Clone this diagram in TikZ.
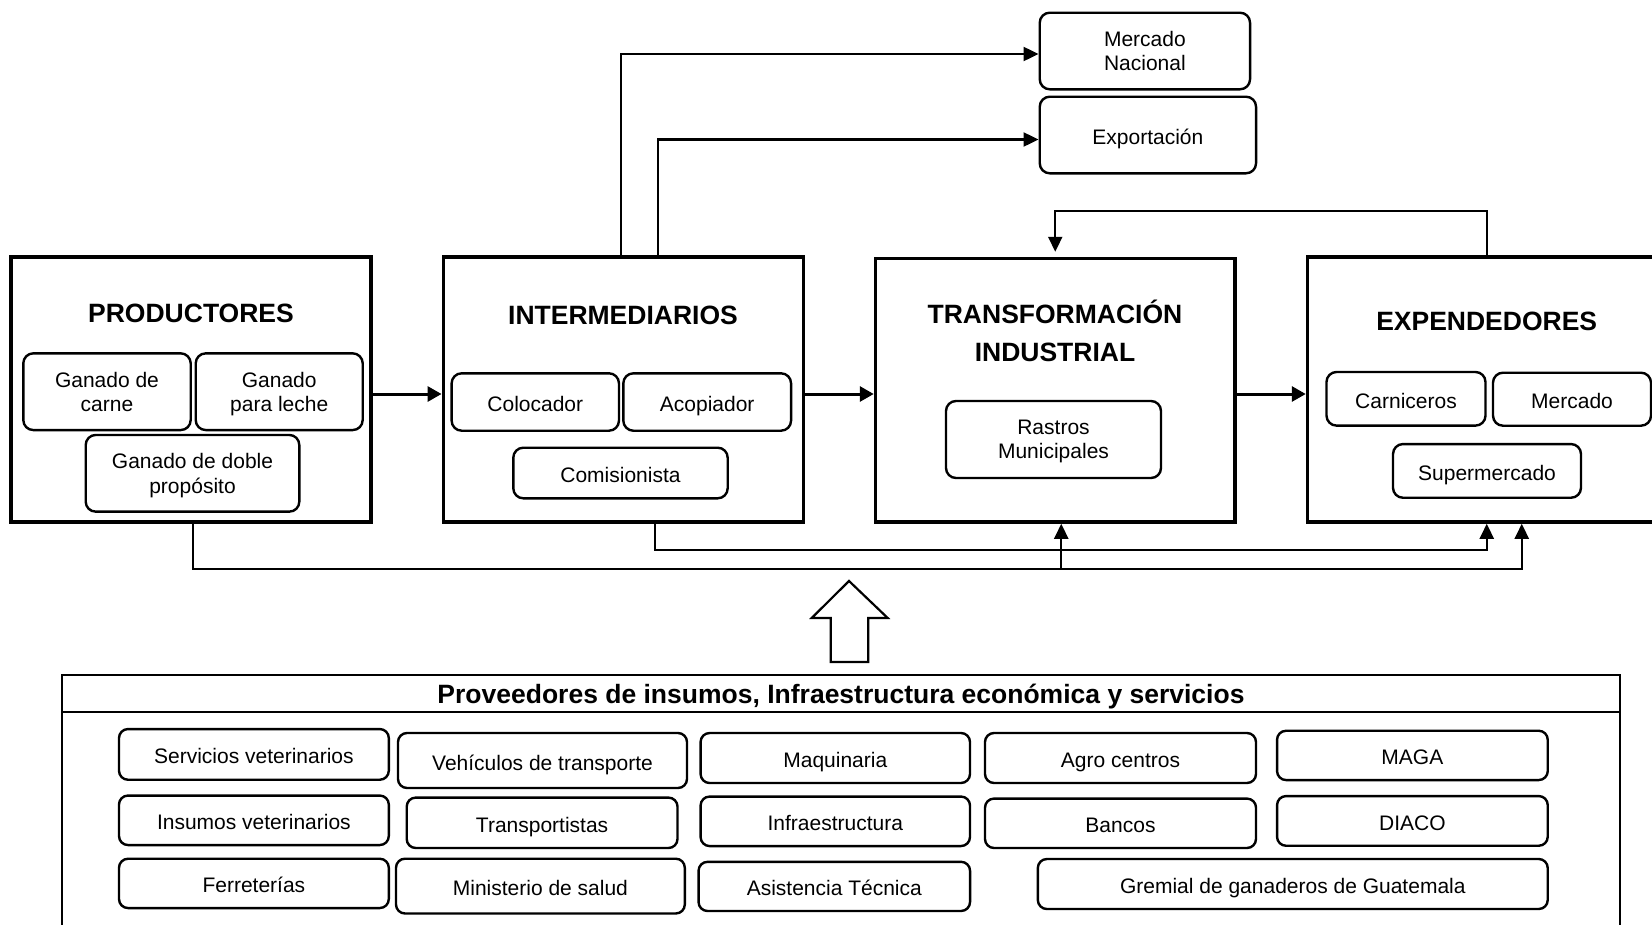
\documentclass[tikz,border=0pt]{standalone}
\usepackage{fontspec}
\setmainfont{Liberation Sans}
\usetikzlibrary{arrows.meta}
\begin{document}
\begin{tikzpicture}[x=1pt,y=-1pt,
  mainbox/.style={draw, line width=3.5pt, inner sep=0pt},
  subbox/.style={draw, line width=2.4pt, rounded corners=10pt, align=center, inner sep=0pt, font=\fontsize{21}{24.5}\selectfont},
  botbox/.style={draw, line width=2.4pt, rounded corners=9pt, align=center, inner sep=0pt, font=\fontsize{21}{24.5}\selectfont, text height=19pt, text depth=0pt},
  onel/.style={text height=19pt, text depth=0pt},
  twol/.style={text depth=0pt},
  titletext/.style={font=\fontsize{26.5}{38}\selectfont\bfseries, align=center, inner sep=0pt},
  conn/.style={line width=2.2pt},
  flow/.style={line width=3pt, -{Triangle[length=14pt,width=15pt]}},
  tipend/.style={-{Triangle[length=15pt,width=14pt]}}]
\clip (0,0) rectangle (1652,924);
\fill[white] (0,0) rectangle (1652,924);

% main boxes
\node[mainbox, minimum width=360pt, minimum height=265pt] (prod) at (191,389.5) {};
\node[mainbox, minimum width=360pt, minimum height=265pt] (inter) at (623.3,389.5) {};
\node[mainbox, minimum width=359.5pt, minimum height=263.5pt] (trans) at (1055.25,390.25) {};
\node[mainbox, minimum width=358.5pt, minimum height=265pt] (expen) at (1486.75,389.5) {};

\node[titletext] (prodt) at (191,313) {PRODUCTORES};
\node[titletext] (intert) at (623,315) {INTERMEDIARIOS};
\node[titletext] (transt) at (1055,331) {TRANSFORMACIÓN\\INDUSTRIAL};
\node[titletext] (expent) at (1486.7,321) {EXPENDEDORES};

% sub boxes
\node[subbox, twol, minimum width=167.4pt, minimum height=76.7pt] (gc) at (107,391.7) {Ganado de\\carne};
\node[subbox, twol, minimum width=167pt, minimum height=76.7pt] (gl) at (279.2,391.7) {Ganado\\para leche};
\node[subbox, twol, minimum width=213.6pt, minimum height=76.7pt] (gd) at (192.5,473.3) {Ganado de doble\\propósito};
\node[subbox, onel, minimum width=167.3pt, minimum height=57.4pt] (col) at (535.3,402) {Colocador};
\node[subbox, onel, minimum width=167.7pt, minimum height=57.4pt] (aco) at (707.2,402) {Acopiador};
\node[subbox, onel, minimum width=214.4pt, minimum height=50.6pt] (com) at (620.5,473) {Comisionista};
\node[subbox, twol, minimum width=215pt, minimum height=77pt] (ras) at (1053.5,439.5) {Rastros\\Municipales};
\node[subbox, onel, minimum width=159pt, minimum height=53.6pt] (car) at (1406,398.8) {Carniceros};
\node[subbox, onel, minimum width=158pt, minimum height=53pt] (mer) at (1572,399.2) {Mercado};
\node[subbox, onel, minimum width=188pt, minimum height=53.7pt] (sup) at (1487,470.9) {Supermercado};
\node[subbox, twol, minimum width=210.3pt, minimum height=76.6pt] (mn) at (1144.9,51) {Mercado\\Nacional};
\node[subbox, onel, minimum width=216.3pt, minimum height=76.6pt] (exp) at (1147.9,135) {Exportación};

% flow arrows between main boxes
\coordinate (row) at (0,394);
\draw[flow] (prod.east |- row) -- (inter.west |- row);
\draw[flow] (inter.east |- row) -- (trans.west |- row);
\draw[flow] (trans.east |- row) -- (expen.west |- row);

% top connectors
\draw[conn,tipend] ([xshift=-2pt]inter.north) |- ([yshift=-3pt]mn.west);
\draw[conn,tipend] ([xshift=35pt]inter.north) |- ([yshift=-4.5pt]exp.west);

% feedback
\coordinate (fb) at (1200,211);
\draw[conn,tipend,shorten >=5pt] (expen.north) |- (fb) -| (trans.north);

% bottom connectors
\coordinate (b1) at (700,569);
\coordinate (b2) at (900,550);
\draw[conn,tipend] ([xshift=2pt]prod.south) |- (b1) -| ([xshift=35pt]expen.south);
\draw[conn,tipend] ([xshift=6pt]trans.south |- b1) -- ([xshift=6pt]trans.south);
\draw[conn,tipend] ([xshift=32pt]inter.south) |- (b2) -| (expen.south);

% hollow arrow
\draw[line width=2.2pt, fill=white] (849,581) -- (887.7,618) -- (868.3,618) -- (868.3,662) -- (830.7,662) -- (830.7,618) -- (811.7,618) -- cycle;

% bottom panel
\draw[line width=2.2pt] (62.2,675) rectangle (1620,945);
\draw[line width=2.2pt] (62.2,711.7) -- (1620,711.7);
\node[titletext] (panelt) at (841,697) {Proveedores de insumos, Infraestructura económica y servicios};

% bottom boxes
\node[botbox, minimum width=269.8pt, minimum height=50.7pt] (sv) at (253.9,754.4) {Servicios veterinarios};
\node[botbox, minimum width=289pt, minimum height=55pt] (vt) at (542.5,760.5) {Vehículos de transporte};
\node[botbox, minimum width=269.4pt, minimum height=50pt] (maq) at (835.3,758) {Maquinaria};
\node[botbox, minimum width=271pt, minimum height=50pt] (agro) at (1120.5,758) {Agro centros};
\node[botbox, minimum width=270.7pt, minimum height=49.3pt] (maga) at (1412.4,755.4) {MAGA};

\node[botbox, minimum width=269.8pt, minimum height=49.5pt] (iv) at (253.9,820.3) {Insumos veterinarios};
\node[botbox, minimum width=270.8pt, minimum height=50.4pt] (tr) at (542.1,822.8) {Transportistas};
\node[botbox, minimum width=269.4pt, minimum height=49.5pt] (inf) at (835.3,821.3) {Infraestructura};
\node[botbox, minimum width=271pt, minimum height=49.4pt] (ban) at (1120.5,823.3) {Bancos};
\node[botbox, minimum width=270.7pt, minimum height=49.7pt] (diaco) at (1412.4,820.9) {DIACO};

\node[botbox, minimum width=269.8pt, minimum height=49.3pt] (fer) at (253.9,883.4) {Ferreterías};
\node[botbox, minimum width=288.8pt, minimum height=54.8pt] (min) at (540.4,886.1) {Ministerio de salud};
\node[botbox, minimum width=271.5pt, minimum height=49.2pt] (asi) at (834.3,886.4) {Asistencia Técnica};
\node[botbox, minimum width=509.9pt, minimum height=50pt] (gre) at (1292.8,884) {Gremial de ganaderos de Guatemala};
\end{tikzpicture}
\end{document}
